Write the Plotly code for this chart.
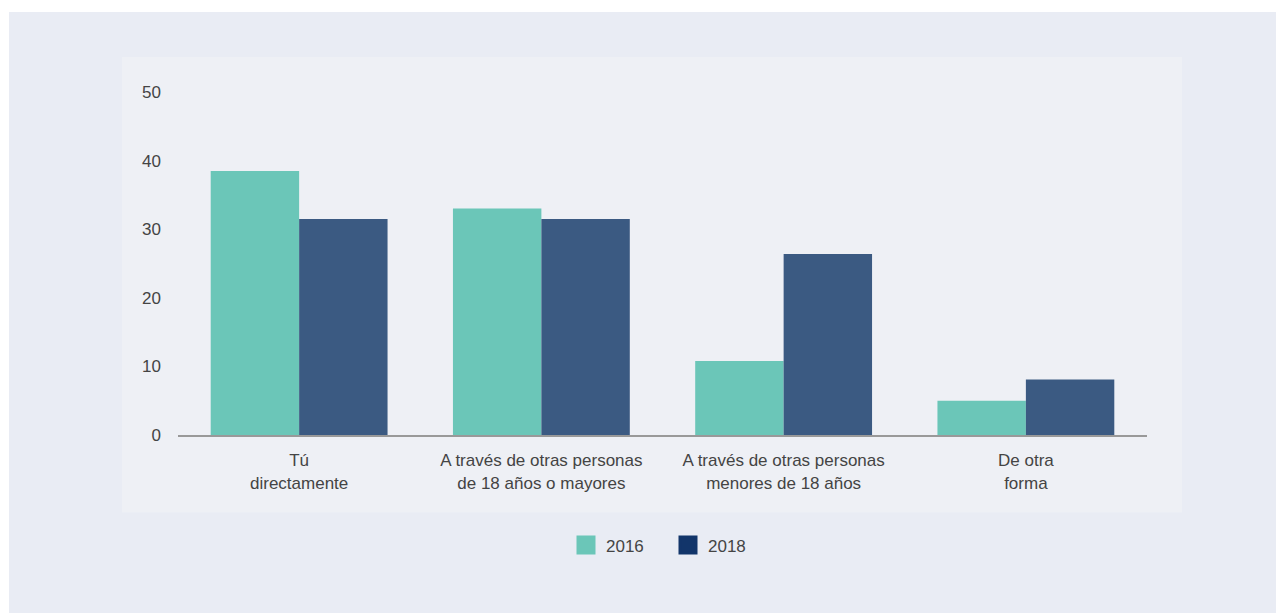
import plotly.graph_objects as go

categories = ["Tú<br>directamente",
              "A través de otras personas<br>de 18 años o mayores",
              "A través de otras personas<br>menores de 18 años",
              "De otra<br>forma"]
series_names = ["2016", "2018"]
values_2016 = [38.5, 33.0, 10.8, 5.0]
values_2018 = [31.5, 31.5, 26.4, 8.1]
y_ticks = [0, 10, 20, 30, 40, 50]

bar_colors = ["#6bc6b8", "#3b5a82"]
legend_colors = ["#6bc6b8", "#12356a"]

OFF = 8  # page body margin
W, H = 1284, 613
L, R, T, B = 178 - OFF, 1147 - OFF, 92 - OFF, 435.5 - OFF

def px(x):
    return (x - OFF - L) / (R - L)

def py(y):
    return (B - (y - OFF)) / (B - T)

fig = go.Figure()
for name, vals, c in zip(series_names, [values_2016, values_2018], bar_colors):
    fig.add_trace(go.Bar(x=categories, y=vals, name=name, marker_color=c,
                         marker_line_width=0, showlegend=False))
for name, c in zip(series_names, legend_colors):
    fig.add_trace(go.Scatter(x=[None], y=[None], mode="markers", name=name,
                             marker=dict(symbol="square", size=16, color=c,
                                         line=dict(color=c, width=3))))

fig.update_layout(
    width=W, height=H,
    margin=dict(l=L, r=W - R, t=T, b=H - B, pad=0),
    paper_bgcolor="white",
    plot_bgcolor="rgba(0,0,0,0)",
    barmode="group",
    bargap=0.27,
    bargroupgap=0,
    font=dict(family="Liberation Sans, Arial, sans-serif", size=17, color="#444444"),
    showlegend=True,
    legend=dict(orientation="h", x=px(668), xanchor="center",
                y=py(546), yanchor="middle", font=dict(size=17, color="#444444"),
                itemsizing="trace", bgcolor="rgba(0,0,0,0)", itemwidth=30,
                entrywidth=57, tracegroupgap=0),
    shapes=[
        dict(type="rect", xref="paper", yref="paper", x0=px(9), x1=px(W + 20),
             y0=py(12), y1=py(H + 20), fillcolor="#e9ecf4", line_width=0, layer="below"),
        dict(type="rect", xref="paper", yref="paper", x0=px(122), x1=px(1182),
             y0=py(57), y1=py(513), fillcolor="#eef0f5", line_width=0, layer="below"),
    ],
)
fig.update_xaxes(showgrid=False, showline=True, linecolor="#999999", linewidth=2,
                 ticks="", tickfont=dict(size=17), ticklabelstandoff=9)
fig.update_yaxes(range=[0, 50], tickvals=y_ticks, showgrid=False, zeroline=False,
                 showline=False, ticks="", tickfont=dict(size=17), ticklabelstandoff=16)

fig.write_html("out.html")
